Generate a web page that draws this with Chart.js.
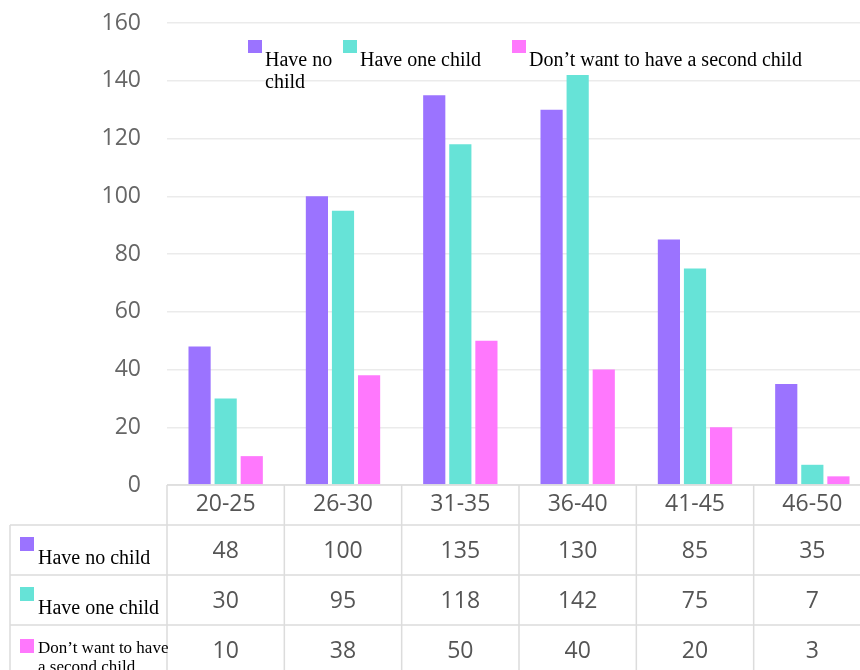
<!DOCTYPE html>
<html>
<head>
<meta charset="utf-8">
<script src="https://cdn.jsdelivr.net/npm/chart.js@4/dist/chart.umd.min.js"></script>
<style>
  html, body { margin: 0; padding: 0; background: #fff; overflow: hidden; }
  #wrap { width: 860px; height: 670px; overflow: hidden; position: relative; }
  canvas { display: block; }
</style>
</head>
<body>
<div id="wrap"><canvas id="c" width="872" height="670"></canvas></div>
<script>
// Age groups and survey counts
const categories = ['20-25', '26-30', '31-35', '36-40', '41-45', '46-50'];
const seriesNames = ['Have no child', 'Have one child', 'Don\u2019t want to have a second child'];
const noChild = [48, 100, 135, 130, 85, 35];
const oneChild = [30, 95, 118, 142, 75, 7];
const noSecondChild = [10, 38, 50, 40, 20, 3];
const yTicks = [0, 20, 40, 60, 80, 100, 120, 140, 160];

const colors = ['#9b73ff', '#66e3d7', '#ff78fd'];
const numFont = '"Open Sans", "DejaVu Sans", sans-serif';
const serifFont = '"Liberation Serif", "Times New Roman", serif';
const gridLine = '#dcdcdc';

function wrapWords(ctx, text, maxW) {
  const words = text.split(' ');
  const lines = [];
  let cur = '';
  for (const w of words) {
    const t = cur ? cur + ' ' + w : w;
    if (cur && ctx.measureText(t).width > maxW) { lines.push(cur); cur = w; }
    else cur = t;
  }
  if (cur) lines.push(cur);
  return lines;
}

// Legend row at the top and the data table under the x axis
const tablePlugin = {
  id: 'tablePlugin',
  afterDraw(chart) {
    const ctx = chart.ctx;
    const xs = chart.scales.x;
    const area = chart.chartArea;
    const n = categories.length;
    const colW = (area.right - area.left) / n;
    const top = area.bottom;          // header row top
    const headerBottom = top + 40;
    const rowH = 50;
    const tableLeft = 10;
    const H = chart.height;
    const W = chart.width;

    ctx.save();
    // legend
    ctx.font = '20px ' + serifFont;
    ctx.fillStyle = '#000';
    ctx.textBaseline = 'alphabetic';
    ctx.textAlign = 'left';
    const legX = [248, 343, 512];
    chart.data.datasets.forEach((ds, i) => {
      const sx = legX[i];
      ctx.fillStyle = colors[i];
      ctx.fillRect(sx, 40, 14, 13);
      ctx.fillStyle = '#000';
      const tx = sx + 17;
      const maxW = i < legX.length - 1 ? legX[i + 1] - tx - 2 : 400;
      const lines = wrapWords(ctx, ds.label, maxW);
      lines.forEach((ln, k) => ctx.fillText(ln, tx, 66 + k * 22));
    });

    // table grid
    ctx.strokeStyle = gridLine;
    ctx.lineWidth = 1.5;
    ctx.beginPath();
    ctx.moveTo(area.left, top); ctx.lineTo(W, top);
    for (let r = 0; r < 3; r++) {
      const y = headerBottom + r * rowH;
      ctx.moveTo(tableLeft, y); ctx.lineTo(W, y);
    }
    ctx.moveTo(tableLeft, headerBottom); ctx.lineTo(tableLeft, H);
    for (let i = 0; i <= n; i++) {
      const x = area.left + i * colW;
      ctx.moveTo(x, top); ctx.lineTo(x, H);
    }
    ctx.stroke();

    // row labels and values
    const rowFonts = [20, 20, 17];
    chart.data.datasets.forEach((ds, r) => {
      const rowTop = headerBottom + r * rowH;
      const fs = rowFonts[r];
      ctx.fillStyle = colors[r];
      ctx.fillRect(20, rowTop + 12 + (r === 2 ? 2 : 0), 14, 14);
      ctx.fillStyle = '#000';
      ctx.font = fs + 'px ' + serifFont;
      ctx.textAlign = 'left';
      ctx.textBaseline = 'alphabetic';
      const lines = wrapWords(ctx, ds.label, 140);
      if (lines.length === 1) {
        ctx.fillText(lines[0], 38, rowTop + 39);
      } else {
        lines.forEach((ln, k) => ctx.fillText(ln, 38, rowTop + 28 + k * 19));
      }
      ctx.font = '23px ' + numFont;
      ctx.fillStyle = '#555';
      ctx.textAlign = 'center';
      ctx.textBaseline = 'middle';
      ds.data.forEach((v, i) => {
        ctx.fillText(String(v), xs.getPixelForValue(i), rowTop + 26);
      });
    });
    ctx.restore();
  }
};

new Chart(document.getElementById('c'), {
  type: 'bar',
  data: {
    labels: categories,
    datasets: [
      { label: seriesNames[0], data: noChild, backgroundColor: colors[0] },
      { label: seriesNames[1], data: oneChild, backgroundColor: colors[1] },
      { label: seriesNames[2], data: noSecondChild, backgroundColor: colors[2] }
    ]
  },
  options: {
    responsive: false,
    animation: false,
    devicePixelRatio: 1,
    layout: { padding: { top: 23, right: 1, bottom: 145, left: 0 } },
    datasets: { bar: { categoryPercentage: 0.667, barPercentage: 0.85 } },
    plugins: { legend: { display: false }, tooltip: { enabled: false } },
    scales: {
      x: {
        grid: { display: false, drawTicks: false },
        border: { display: false },
        ticks: { color: '#555', font: { family: numFont, size: 23 }, padding: 6, maxRotation: 0 },
        afterFit(s) { s.height = 40; }
      },
      y: {
        min: 0, max: 160,
        afterBuildTicks(s) { s.ticks = yTicks.map(v => ({ value: v })); },
        grid: { color: '#ebebeb', lineWidth: 1.5, drawTicks: false },
        border: { display: false },
        ticks: { color: '#666', font: { family: numFont, size: 23 }, padding: 26 },
        afterFit(s) { s.width = 167; s.paddingTop = 0; s.paddingBottom = 0; }
      }
    }
  },
  plugins: [tablePlugin]
});
</script>
</body>
</html>
